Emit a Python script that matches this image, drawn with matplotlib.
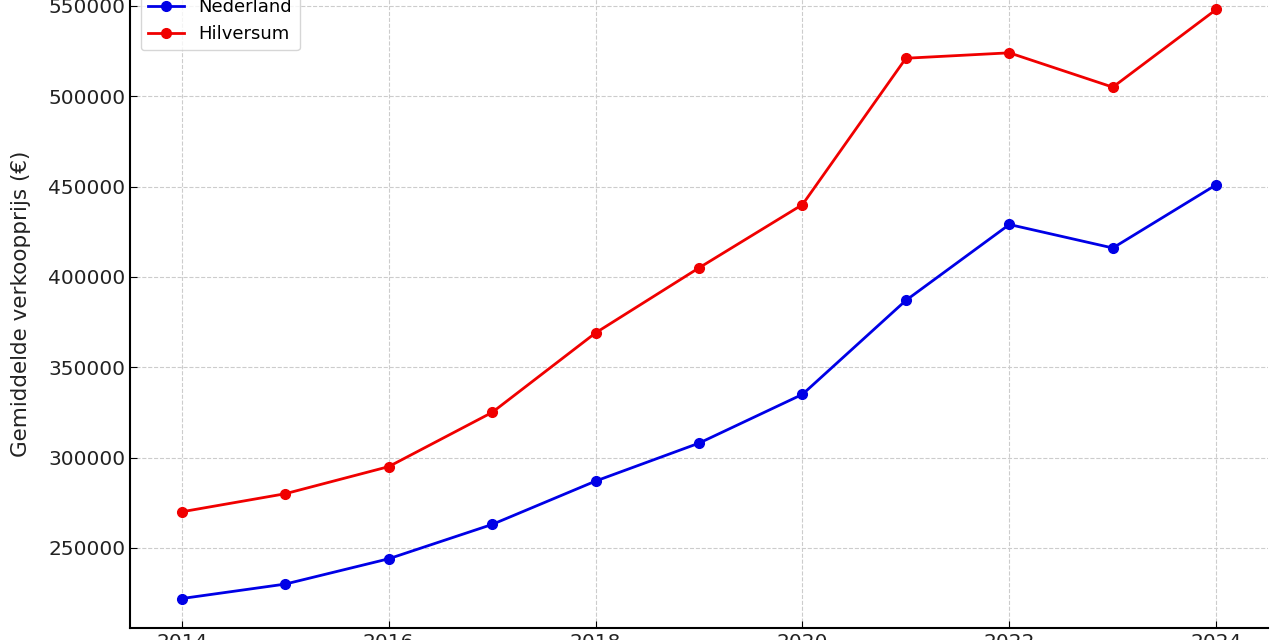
import matplotlib.pyplot as plt

# Gemiddelde verkoopprijs per jaar
jaren = [2014, 2015, 2016, 2017, 2018, 2019, 2020, 2021, 2022, 2023, 2024]
nederland = [222000, 230000, 244000, 263000, 287000, 308000, 335000, 387000, 429000, 416000, 451000]
hilversum = [270000, 280000, 295000, 325000, 369000, 405000, 440000, 521000, 524000, 505000, 548000]

fig = plt.figure(figsize=(12.8, 6.4), dpi=100)
# the reference is a crop of a bigger chart, so the axes run past the top edge
ax = fig.add_axes([0.1016, 0.01875, 0.889, 1.0125])

ax.plot(jaren, nederland, marker='o', color='#0000e6', linewidth=2, markersize=7, label='Nederland')
ax.plot(jaren, hilversum, marker='o', color='#f00000', linewidth=2, markersize=7, label='Hilversum')

ax.set_ylabel('Gemiddelde verkoopprijs (€)', fontsize=15.5, color='#222222')
ax.tick_params(axis='both', direction='in', labelsize=14.5, length=5, labelcolor='#222222')
ax.grid(True, linestyle='--', color='#cccccc', linewidth=0.8)
ax.spines['right'].set_visible(False)
ax.spines['top'].set_visible(False)
ax.spines['left'].set_linewidth(1.5)
ax.spines['bottom'].set_linewidth(1.5)
ax.yaxis.set_label_coords(-0.087, 0.5)

ax.legend(loc='upper left', fontsize=13, borderaxespad=0.6)

fig.savefig('out.png', dpi=100)
